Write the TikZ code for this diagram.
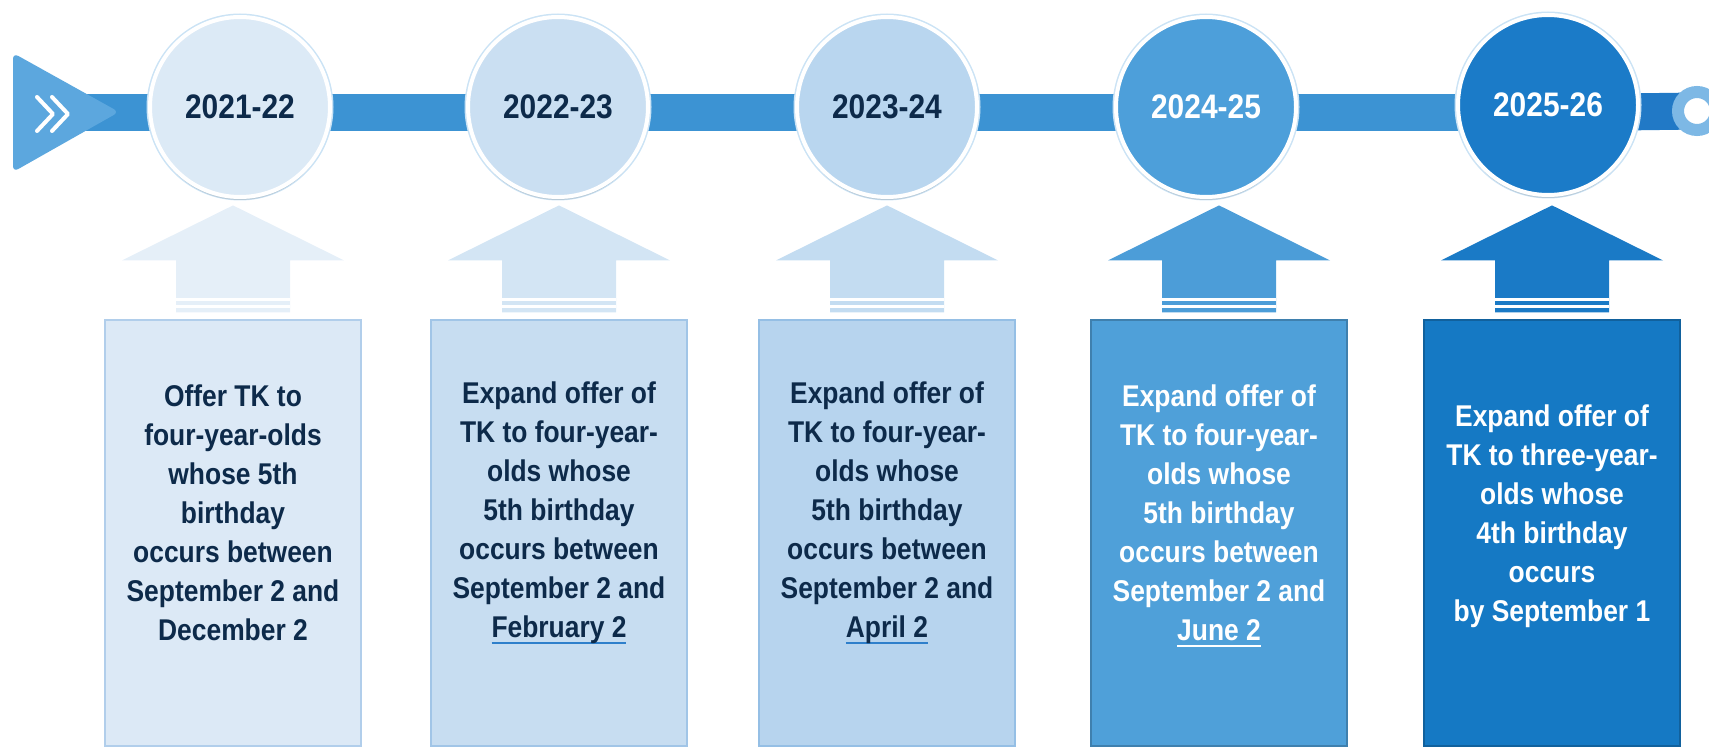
\documentclass[tikz,border=0pt]{standalone}
\usepackage{fontspec}
\setmainfont{Liberation Sans}
\newfontfamily\narrowsans[FakeStretch=0.88]{Liberation Sans}
\usetikzlibrary{shadows}

\definecolor{barblue}{HTML}{3C93D3}
\definecolor{bardark}{HTML}{2179C6}
\definecolor{triblue}{HTML}{5CA7DE}
\definecolor{ringblue}{HTML}{7DB8E5}
\definecolor{navytext}{HTML}{0D2A4A}
\definecolor{ulblue}{HTML}{2E7FCB}
\definecolor{circA}{HTML}{DCEAF6}
\definecolor{circB}{HTML}{CADFF2}
\definecolor{circC}{HTML}{B9D6EF}
\definecolor{circD}{HTML}{4D9FDA}
\definecolor{circE}{HTML}{1B7BC8}
\definecolor{boxA}{HTML}{DCE9F6}
\definecolor{boxB}{HTML}{C7DDF1}
\definecolor{boxC}{HTML}{B7D4EE}
\definecolor{boxD}{HTML}{4FA0D9}
\definecolor{boxE}{HTML}{1579C4}
\definecolor{arrA}{HTML}{E5EFF8}
\definecolor{arrB}{HTML}{D3E5F4}
\definecolor{arrC}{HTML}{C3DCF1}
\definecolor{arrD}{HTML}{4C9DD8}
\definecolor{arrE}{HTML}{1A7AC6}

% underlined date
\newcommand{\uldate}[2]{\sbox0{#2}\rlap{\color{#1}\rule[-6pt]{\wd0}{2.2pt}}\usebox0}

\begin{document}
\begin{tikzpicture}[x=1pt,y=-1pt,
  yearcircle/.style={circle, minimum size=180pt, draw=white, line width=4pt,
    preaction={draw=ringblue!40, line width=7pt},
    drop shadow={shadow xshift=0pt, shadow yshift=-3pt, opacity=0.25},
    font=\narrowsans\bfseries\fontsize{34}{34}\selectfont},
  stepbox/.style={rectangle, minimum width=256pt, minimum height=426pt,
    preaction={draw=white, line width=6pt}, line width=1.2pt},
  boxtext/.style={align=center, font=\narrowsans\bfseries\fontsize{30}{39}\selectfont}]
\useasboundingbox (0,0) rectangle (1709,751);

\coordinate (go) at (60,113);
\coordinate (c5pos) at (1548,105);
\coordinate (ringpos) at (1697,111);

% timeline bar, start triangle and end ring
\draw[barblue, line width=37pt] (go) -- (c5pos |- go);
\draw[bardark, line width=37pt] (c5pos |- go) -- (ringpos);
\fill[triblue, rounded corners=6pt] (13,53) -- (119,112) -- (13,172) -- cycle;
\draw[white, line width=4pt, line cap=round, line join=round] (37,97) -- (53,114) -- (37,131);
\draw[white, line width=4pt, line cap=round, line join=round] (52,97) -- (68,114) -- (52,131);
\node[circle, draw=ringblue, line width=12pt, fill=white, minimum size=38pt] (ring) at (ringpos) {};

% the years
\node[yearcircle, fill=circA, text=navytext] (c1) at (240,107) {2021-22};
\node[yearcircle, fill=circB, text=navytext] (c2) at (558,107) {2022-23};
\node[yearcircle, fill=circC, text=navytext] (c3) at (887,107) {2023-24};
\node[yearcircle, fill=circD, text=white] (c4) at (1206,107) {2024-25};
\node[yearcircle, fill=circE, text=white] (c5) at (c5pos) {2025-26};

% boxes
\node[stepbox, fill=boxA, draw=boxA!75!ulblue] (b1) at (233,533) {};
\node[stepbox, fill=boxB, draw=boxB!75!ulblue] (b2) at (559,533) {};
\node[stepbox, fill=boxC, draw=boxC!75!ulblue] (b3) at (887,533) {};
\node[stepbox, fill=boxD, draw=boxD!80!black] (b4) at (1219,533) {};
\node[stepbox, fill=boxE, draw=boxE!80!black] (b5) at (1552,533) {};

\node[boxtext, text=navytext] (t1) at ([yshift=20pt]b1.center) {Offer TK to\\four-year-olds\\whose 5th\\birthday\\occurs between\\September 2 and\\December 2};
\node[boxtext, text=navytext] (t2) at ([yshift=20pt]b2.center) {Expand offer of\\TK to four-year-\\olds whose\\5th birthday\\occurs between\\September 2 and\\\uldate{ulblue}{February 2}};
\node[boxtext, text=navytext] (t3) at ([yshift=20pt]b3.center) {Expand offer of\\TK to four-year-\\olds whose\\5th birthday\\occurs between\\September 2 and\\\uldate{ulblue}{April 2}};
\node[boxtext, text=white] (t4) at ([yshift=17pt]b4.center) {Expand offer of\\TK to four-year-\\olds whose\\5th birthday\\occurs between\\September 2 and\\\uldate{white}{June 2}};
\node[boxtext, text=white] (t5) at ([yshift=17pt]b5.center) {Expand offer of\\TK to three-year-\\olds whose\\4th birthday\\occurs\\by September 1};

% block arrows from box up to circle
\foreach \n/\col in {1/arrA,2/arrB,3/arrC,4/arrD,5/arrE}{
  \fill[\col] ([yshift=7pt]b\n.north) -- ++(57,0) -- ++(0,-52) -- ++(54,0) -- ++(-111,-55)
    -- ++(-111,55) -- ++(54,0) -- ++(0,52) -- cycle;
  \draw[white, line width=2.5pt] ([yshift=13pt]b\n.north) ++(-57,0) -- ++(114,0);
  \draw[white, line width=2.5pt] ([yshift=20pt]b\n.north) ++(-57,0) -- ++(114,0);
}
\end{tikzpicture}
\end{document}
